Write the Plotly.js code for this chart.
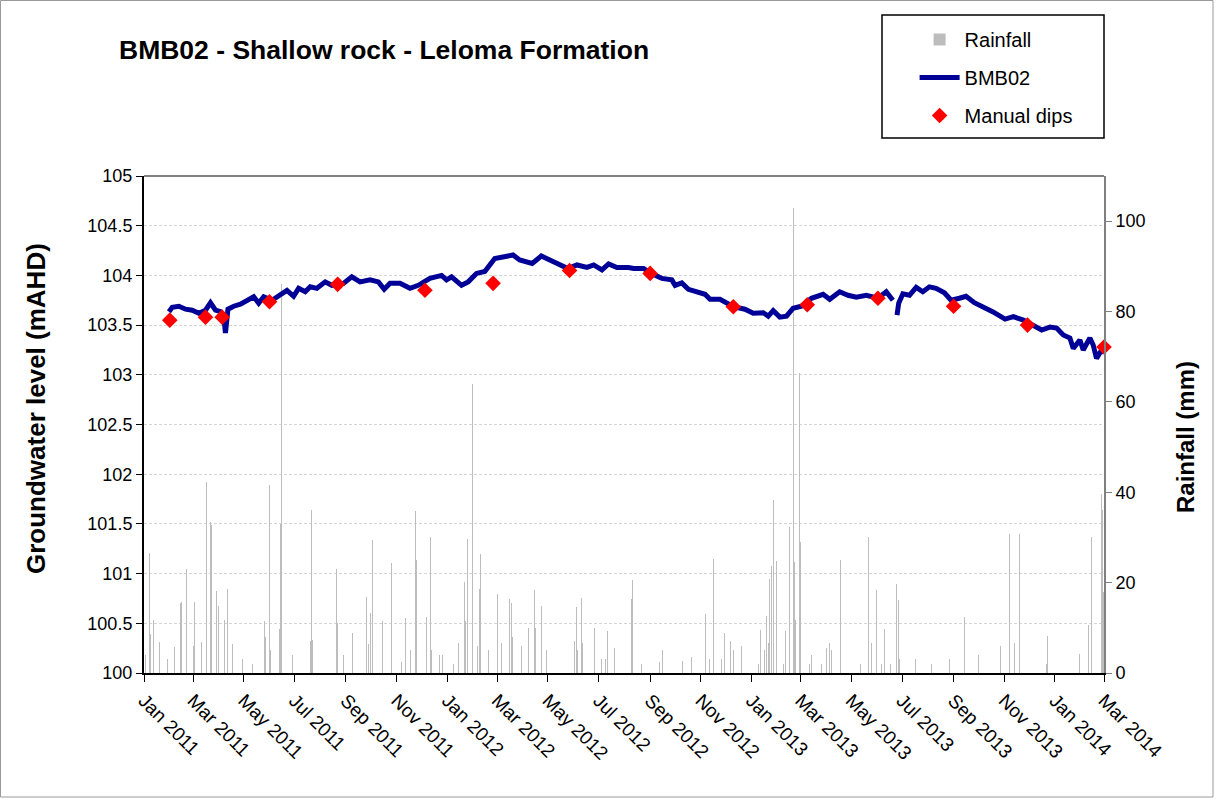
<!DOCTYPE html>
<html>
<head>
<meta charset="utf-8">
<script src="https://cdn.plot.ly/plotly-3.0.1.min.js"></script>
<style>html,body{margin:0;padding:0;background:#fff;}#chart{width:1216px;height:799px;}</style>
</head>
<body>
<div id="chart"></div>
<script>
// ---- Rainfall (mm), daily totals ----
const rainDates = ['2011-01-03','2011-01-07','2011-01-08','2011-01-09','2011-01-12','2011-01-13','2011-01-20','2011-01-29','2011-02-07','2011-02-14','2011-02-15','2011-02-17','2011-02-21','2011-03-02','2011-03-03','2011-03-11','2011-03-17','2011-03-22','2011-03-23','2011-03-29','2011-04-01','2011-04-06','2011-04-08','2011-04-11','2011-04-12','2011-04-17','2011-04-18','2011-04-24','2011-04-30','2011-05-05','2011-05-12','2011-05-23','2011-05-26','2011-05-27','2011-06-01','2011-06-02','2011-06-13','2011-06-14','2011-06-15','2011-06-16','2011-06-29','2011-07-20','2011-07-22','2011-07-23','2011-08-08','2011-08-20','2011-08-21','2011-08-22','2011-08-29','2011-09-09','2011-09-26','2011-09-28','2011-10-01','2011-10-03','2011-10-15','2011-10-26','2011-10-30','2011-11-07','2011-11-12','2011-11-17','2011-11-18','2011-11-23','2011-11-24','2011-11-25','2011-12-07','2011-12-12','2011-12-13','2011-12-23','2011-12-26','2012-01-08','2012-01-14','2012-01-22','2012-01-23','2012-01-25','2012-01-31','2012-02-02','2012-02-06','2012-02-09','2012-02-10','2012-02-14','2012-02-19','2012-02-20','2012-03-01','2012-03-06','2012-03-16','2012-03-18','2012-03-19','2012-03-30','2012-04-08','2012-04-15','2012-04-16','2012-04-23','2012-04-29','2012-06-02','2012-06-04','2012-06-06','2012-06-10','2012-06-12','2012-06-26','2012-07-04','2012-07-09','2012-07-12','2012-07-20','2012-08-10','2012-08-11','2012-08-22','2012-09-12','2012-09-16','2012-10-10','2012-10-21','2012-11-07','2012-11-11','2012-11-16','2012-11-26','2012-11-29','2012-12-07','2012-12-10','2012-12-20','2012-12-24','2013-01-09','2013-01-12','2013-01-17','2013-01-19','2013-01-21','2013-01-23','2013-01-25','2013-01-27','2013-01-28','2013-01-31','2013-02-08','2013-02-11','2013-02-16','2013-02-20','2013-02-22','2013-02-23','2013-02-27','2013-02-28','2013-03-01','2013-03-12','2013-03-14','2013-03-26','2013-04-01','2013-04-05','2013-04-07','2013-04-15','2013-04-18','2013-05-12','2013-05-21','2013-05-22','2013-05-25','2013-05-31','2013-06-06','2013-06-10','2013-06-17','2013-06-24','2013-06-25','2013-06-27','2013-06-28','2013-07-17','2013-08-05','2013-08-27','2013-09-14','2013-10-01','2013-10-10','2013-10-27','2013-11-07','2013-11-08','2013-11-13','2013-11-14','2013-11-19','2013-11-20','2013-11-26','2013-12-02','2013-12-22','2013-12-23','2014-01-19','2014-01-31','2014-02-10','2014-02-14','2014-02-26','2014-02-27','2014-02-28'];
const rainMm = [4,14.6,26.6,8.6,11.7,4,6.8,3,5.8,15.4,15.7,5,23,6,15.8,6.9,42.2,33.5,32.7,18.2,14.8,4,11.7,18.5,18.5,6.5,17.7,4,3,5,2,3,11.5,8,41.6,5,9.7,33,86,65,4,7,36,7.4,2,7.6,23,11,4,8.8,16.8,6.5,13.2,29.4,11.5,24.4,14,2.5,12.2,15.6,5,14.3,35.8,25,12.4,30,5,4,4,2,6.6,20.2,11.5,29.6,64,66.9,6,18.5,26.4,7.4,5,22.9,17.4,6.6,16.3,15.5,8,6,9.9,18.3,10,14.8,5,7,14.5,5,16.5,6.6,10,3,3,9.3,5.6,16.3,20.5,2,2.5,5,2.6,3.5,13,3,25.2,3,8.8,7,5,6,28.1,2,9.5,5,12.7,6.6,20.8,23.6,38.3,48.5,24.7,2,9.3,32.3,103,24.6,11.7,26,66.5,29,2,4,2,5.6,6.6,5,4,25,2,12.8,30.1,6.6,18.3,2,9.8,2,19.6,8.9,16.1,3,3,2,3,12.4,4,3,5.9,30.8,11,6.6,17.8,30.7,12.6,23.8,4,2,8.2,3,4.2,10.6,30.1,39.7,36,18];

// ---- BMB02 logger groundwater level (mAHD) ----
const gwDates = ['2011-01-31','2011-02-04','2011-02-12','2011-02-20','2011-02-28','2011-03-08','2011-03-16','2011-03-22','2011-03-28','2011-04-03','2011-04-07','2011-04-09','2011-04-12','2011-04-19','2011-04-27','2011-05-05','2011-05-13','2011-05-19','2011-05-25','2011-06-04','2011-06-14','2011-06-22','2011-06-30','2011-07-06','2011-07-14','2011-07-20','2011-07-28','2011-08-07','2011-08-15','2011-08-29','2011-09-08','2011-09-18','2011-09-30','2011-10-10','2011-10-17','2011-10-24','2011-11-05','2011-11-17','2011-11-27','2011-12-11','2011-12-25','2011-12-31','2012-01-06','2012-01-18','2012-01-26','2012-02-05','2012-02-15','2012-02-21','2012-02-27','2012-03-11','2012-03-20','2012-03-28','2012-04-12','2012-04-23','2012-05-03','2012-05-15','2012-05-25','2012-06-05','2012-06-17','2012-06-25','2012-07-05','2012-07-13','2012-07-23','2012-08-06','2012-08-12','2012-08-24','2012-09-02','2012-09-15','2012-09-27','2012-10-01','2012-10-09','2012-10-17','2012-10-27','2012-11-06','2012-11-12','2012-11-24','2012-12-10','2012-12-24','2013-01-03','2013-01-15','2013-01-21','2013-01-27','2013-02-04','2013-02-12','2013-02-20','2013-03-02','2013-03-14','2013-03-28','2013-04-05','2013-04-17','2013-04-27','2013-05-07','2013-05-19','2013-06-02','2013-06-12','2013-06-20','2013-06-22','2013-06-25','2013-06-27','2013-07-02','2013-07-10','2013-07-18','2013-07-26','2013-08-03','2013-08-11','2013-08-21','2013-08-29','2013-09-08','2013-09-16','2013-09-26','2013-10-08','2013-10-18','2013-11-02','2013-11-12','2013-11-24','2013-12-06','2013-12-16','2013-12-26','2014-01-03','2014-01-11','2014-01-19','2014-01-23','2014-01-31','2014-02-04','2014-02-12','2014-02-16','2014-02-20','2014-02-26','2014-03-01'];
const gwLevel = [103.635,103.68,103.69,103.66,103.65,103.62,103.65,103.725,103.65,103.635,103.58,103.42,103.66,103.69,103.71,103.75,103.785,103.72,103.785,103.75,103.80,103.85,103.79,103.87,103.835,103.885,103.87,103.935,103.90,103.92,103.985,103.935,103.955,103.935,103.86,103.92,103.92,103.87,103.90,103.97,104.00,103.955,103.985,103.90,103.935,104.02,104.04,104.105,104.17,104.19,104.205,104.155,104.12,104.195,104.155,104.12,104.07,104.105,104.08,104.105,104.055,104.115,104.08,104.08,104.07,104.07,104.02,103.97,103.955,103.90,103.925,103.86,103.835,103.81,103.76,103.76,103.685,103.66,103.62,103.625,103.59,103.645,103.58,103.59,103.67,103.69,103.77,103.81,103.76,103.835,103.80,103.78,103.80,103.77,103.835,103.75,null,103.60,103.72,103.815,103.80,103.88,103.835,103.885,103.87,103.825,103.75,103.77,103.79,103.725,103.68,103.635,103.56,103.585,103.55,103.49,103.45,103.48,103.47,103.40,103.37,103.265,103.35,103.25,103.37,103.30,103.165,103.25,103.22];

// ---- Manual dips (mAHD) ----
const dipDates = ['2011-02-01','2011-03-16','2011-04-05','2011-06-01','2011-08-22','2011-12-05','2012-02-25','2012-05-27','2012-09-01','2012-12-10','2013-03-09','2013-06-02','2013-09-01','2013-11-29','2014-03-01'];
const dipLevel = [103.55,103.58,103.58,103.735,103.91,103.85,103.92,104.05,104.02,103.685,103.705,103.77,103.69,103.50,103.28];

const FONT = 'Liberation Sans, Arial, Helvetica, sans-serif';

const traces = [
  {
    type: 'bar', name: 'Rainfall', x: rainDates, y: rainMm,
    xaxis: 'x', yaxis: 'y', width: 86400000,
    marker: {color: '#bdbdbd', line: {width: 0}},
    legendgroup: 'a'
  },
  {
    type: 'scatter', mode: 'lines', name: 'BMB02', x: gwDates, y: gwLevel,
    xaxis: 'x', yaxis: 'y2', connectgaps: false,
    line: {color: '#000096', width: 5},
    legendgroup: 'b'
  },
  {
    type: 'scatter', mode: 'markers', name: 'Manual dips', x: dipDates, y: dipLevel,
    xaxis: 'x', yaxis: 'y2', cliponaxis: false,
    marker: {symbol: 'diamond', size: 12, color: '#ff0000', line: {width: 0}},
    legendgroup: 'c'
  }
];

const layout = {
  width: 1216, height: 799,
  margin: {l: 144, r: 112, t: 176, b: 126, pad: 0},
  paper_bgcolor: '#ffffff', plot_bgcolor: '#ffffff',
  font: {family: FONT, color: '#000', size: 18},
  bargap: 0,
  title: {
    text: '<b>BMB02 - Shallow rock - Leloma Formation</b>',
    font: {family: FONT, size: 26.5, color: '#000'},
    xref: 'container', yref: 'container',
    x: 119/1216, xanchor: 'left', y: 1 - 50/799, yanchor: 'middle'
  },
  xaxis: {
    type: 'date', range: ['2011-01-01', '2014-03-01'],
    tick0: '2011-01-01', dtick: 'M2', tickformat: '%b %Y',
    tickangle: 45, ticks: 'outside', ticklen: 7, tickcolor: '#000', tickwidth: 1,
    showline: true, linecolor: '#000', linewidth: 2,
    showgrid: false, zeroline: false,
    tickfont: {family: FONT, size: 19, color: '#000'}
  },
  yaxis: {
    range: [0, 110], tick0: 0, dtick: 20, side: 'right',
    ticks: 'outside', ticklen: 6, tickcolor: '#808080',
    showline: true, linecolor: '#808080', linewidth: 2,
    showgrid: false, zeroline: false,
    tickfont: {family: FONT, size: 18, color: '#000'}
  },
  yaxis2: {
    range: [100, 105], tick0: 100, dtick: 0.5, side: 'left', overlaying: 'y',
    ticks: 'outside', ticklen: 6, tickcolor: '#000',
    showline: true, linecolor: '#000', linewidth: 2,
    showgrid: true, gridcolor: '#d4d4d4', gridwidth: 1, griddash: '3px,2px',
    zeroline: false,
    tickfont: {family: FONT, size: 18, color: '#000'}
  },
  showlegend: true,
  legend: {
    x: 0.8027, y: 1.314, xanchor: 'left', yanchor: 'top',
    bgcolor: 'rgba(0,0,0,0)', borderwidth: 0,
    font: {family: FONT, size: 20, color: '#000'},
    traceorder: 'grouped', tracegroupgap: 9, itemwidth: 40
  },
  shapes: [
    {type: 'rect', xref: 'paper', yref: 'paper', x0: 0.76875, x1: 1.0, y0: 1.0765, y1: 1.324,
     line: {color: '#000', width: 1.5}, fillcolor: 'rgba(0,0,0,0)', layer: 'below'},
    {type: 'line', xref: 'paper', yref: 'paper', x0: 0, x1: 1, y0: 1, y1: 1,
     line: {color: '#808080', width: 2}},
    {type: 'rect', xref: 'paper', yref: 'paper',
     x0: (0.5 - 144) / 960, x1: (1213 - 144) / 960, y0: (673 - 797) / 497, y1: (673 - 0.5) / 497,
     line: {color: '#9a9a9a', width: 1}, fillcolor: 'rgba(0,0,0,0)', layer: 'below'}
  ],
  annotations: [
    {text: '<b>Groundwater level (mAHD)</b>', xref: 'paper', yref: 'paper',
     x: (36 - 144) / 960, y: (673 - 409) / 497, textangle: -90, showarrow: false,
     xanchor: 'center', yanchor: 'middle', font: {family: FONT, size: 26, color: '#000'}},
    {text: '<b>Rainfall (mm)</b>', xref: 'paper', yref: 'paper',
     x: (1185 - 144) / 960, y: (673 - 437) / 497, textangle: -90, showarrow: false,
     xanchor: 'center', yanchor: 'middle', font: {family: FONT, size: 24, color: '#000'}}
  ]
};

Plotly.newPlot('chart', traces, layout, {displayModeBar: false, staticPlot: true});
</script>
</body>
</html>
